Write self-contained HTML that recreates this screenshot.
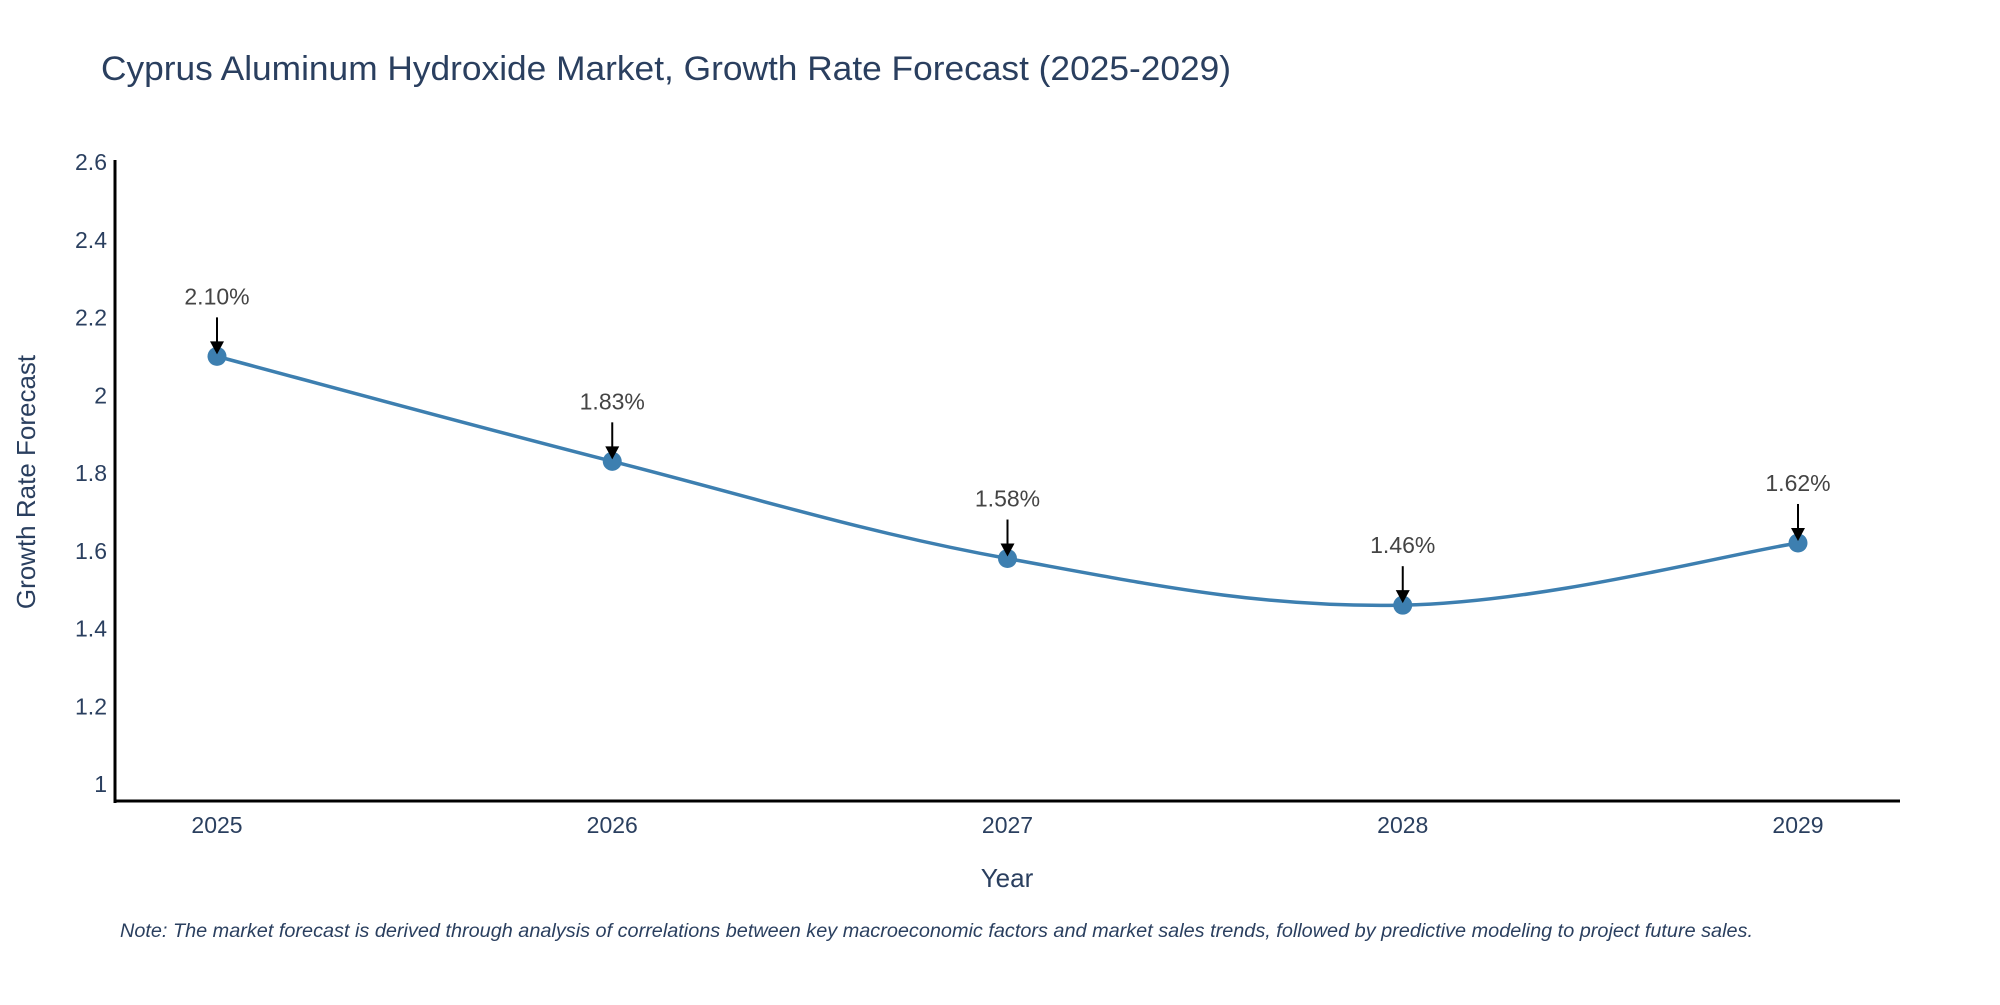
<!DOCTYPE html>
<html><head><meta charset="utf-8"><style>
body{margin:0;background:#fff;}
svg text{font-family:"Liberation Sans",sans-serif;}
</style></head><body>
<svg id="chart" width="2000" height="1000" viewBox="0 0 2000 1000">
<rect width="2000" height="1000" fill="#fff"/>
<text x="101" y="80" font-size="34" fill="#2a3f5f" textLength="1130" lengthAdjust="spacingAndGlyphs">Cyprus Aluminum Hydroxide Market, Growth Rate Forecast (2025-2029)</text>
<g id="yticks"></g>
<g id="xticks"></g>
<line x1="115" y1="160" x2="115" y2="803" stroke="#000" stroke-width="3"/>
<line x1="114" y1="801" x2="1900" y2="801" stroke="#000" stroke-width="3"/>
<path id="line" fill="none" stroke="#3d7fb0" stroke-width="3.5"/>
<g id="points"></g>
<g id="annots"></g>
<text x="1007" y="887" font-size="26" fill="#2a3f5f" text-anchor="middle">Year</text>
<text transform="translate(35,482) rotate(-90)" font-size="26" fill="#2a3f5f" text-anchor="middle">Growth Rate Forecast</text>
<text x="120" y="937" font-size="19" font-style="italic" fill="#2a3f5f" textLength="1633" lengthAdjust="spacingAndGlyphs">Note: The market forecast is derived through analysis of correlations between key macroeconomic factors and market sales trends, followed by predictive modeling to project future sales.</text>
</svg>
<script>
const years = [2025, 2026, 2027, 2028, 2029];
const growth = [2.10, 1.83, 1.58, 1.46, 1.62];
const labels = ["2.10%", "1.83%", "1.58%", "1.46%", "1.62%"];
const yTicks = [1, 1.2, 1.4, 1.6, 1.8, 2, 2.2, 2.4, 2.6];
const yTickLabels = ["1", "1.2", "1.4", "1.6", "1.8", "2", "2.2", "2.4", "2.6"];

const NS = "http://www.w3.org/2000/svg";
function xs(v){ return 217 + (v - 2025) * 395.25; }
function ys(v){ return 784 - (v - 1) * 388.75; }
function mk(tag, attrs, parent, txt){
  const e = document.createElementNS(NS, tag);
  for (const k in attrs) e.setAttribute(k, attrs[k]);
  if (txt !== undefined) e.textContent = txt;
  parent.appendChild(e); return e;
}
const yg = document.getElementById('yticks');
yTicks.forEach((t, i) => {
  const el = mk('text', {x: 107, y: ys(t) + 8, 'font-size': 23, fill: '#2a3f5f', 'text-anchor': 'end'}, yg, yTickLabels[i]);
  
  
});
const xg = document.getElementById('xticks');
years.forEach(y => {
  const el = mk('text', {x: xs(y), y: 833, 'font-size': 23, fill: '#2a3f5f', 'text-anchor': 'middle'}, xg, String(y));
  
  
});
const P = years.map((y, i) => [xs(y), ys(growth[i])]);
let d = `M${P[0][0]},${P[0][1]}`;
const s = 0.18;
for (let i = 0; i < P.length - 1; i++) {
  const p0 = P[Math.max(0, i - 1)], p1 = P[i], p2 = P[i + 1], p3 = P[Math.min(P.length - 1, i + 2)];
  const c1 = [p1[0] + (p2[0] - p0[0]) * s, p1[1] + (p2[1] - p0[1]) * s];
  const c2 = [p2[0] - (p3[0] - p1[0]) * s, p2[1] - (p3[1] - p1[1]) * s];
  d += ` C${c1[0]},${c1[1]} ${c2[0]},${c2[1]} ${p2[0]},${p2[1]}`;
}
document.getElementById('line').setAttribute('d', d);
const pg = document.getElementById('points');
const ag = document.getElementById('annots');
P.forEach((p, i) => {
  const c = mk('circle', {cx: p[0], cy: p[1], r: 9.5, fill: '#3d7fb0'}, pg);
  
  
  const l = mk('line', {x1: p[0], y1: p[1] - 39, x2: p[0], y2: p[1] - 12, stroke: '#000', 'stroke-width': 2}, ag);
  
  
  const h = mk('polygon', {points: `${p[0]-7},${p[1]-15} ${p[0]+7},${p[1]-15} ${p[0]},${p[1]-2}`, fill: '#000'}, ag);
  
  
  const t = mk('text', {x: p[0], y: p[1] - 52, 'font-size': 23, fill: '#444', 'text-anchor': 'middle'}, ag, labels[i]);
  
  
});
</script>
</body></html>
